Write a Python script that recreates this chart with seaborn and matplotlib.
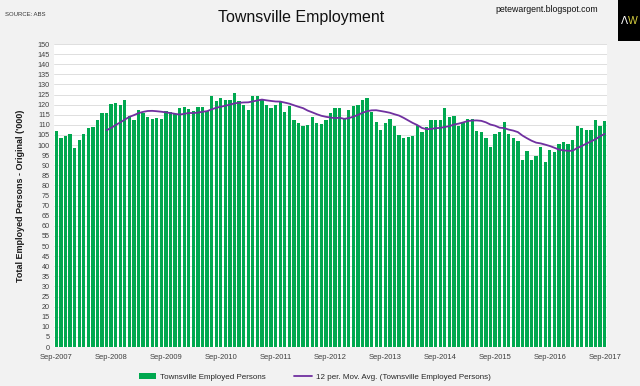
import matplotlib
matplotlib.use("Agg")
import matplotlib.pyplot as plt
from matplotlib import font_manager
from matplotlib.patches import Patch, Rectangle
from matplotlib.lines import Line2D
import seaborn as sns
import pandas as pd
import numpy as np

# ---- data ----
months = pd.date_range("2007-09-01", "2017-09-01", freq="MS")
employed = [
    107.0, 103.3, 104.7, 105.5, 98.3, 102.5, 105.3, 108.6, 108.7, 112.2, 115.8, 116.0,
    120.5, 120.8, 120.0, 122.5, 114.5, 112.6, 117.4, 115.8, 114.0, 113.0, 113.5, 113.0,
    116.8, 116.5, 115.5, 118.3, 118.8, 117.8, 116.7, 118.7, 118.8, 116.7, 124.5, 122.0,
    123.2, 122.2, 122.2, 125.8, 122.0, 120.0, 117.4, 124.3, 124.2, 122.1, 120.0, 118.3,
    120.0, 121.7, 116.1, 119.5, 112.5, 111.0, 109.2, 110.0, 113.8, 111.0, 110.6, 112.2,
    115.6, 118.3, 118.3, 112.8, 117.2, 119.3, 119.7, 122.5, 123.3, 116.2, 111.2, 107.5,
    110.8, 112.7, 109.5, 105.0, 103.7, 104.0, 104.6, 109.8, 106.5, 108.7, 112.5, 112.3,
    112.2, 118.5, 113.9, 114.6, 109.2, 111.0, 113.0, 113.0, 107.1, 106.2, 103.7, 99.2,
    105.5, 106.6, 111.4, 105.6, 103.3, 102.0, 92.5, 97.0, 92.5, 94.8, 99.1, 91.7,
    97.5, 96.3, 100.3, 101.3, 100.4, 102.6, 109.2, 108.3, 107.2, 107.2, 112.5, 109.2,
    111.7,
]
tick_labels = [f"Sep-{y}" for y in range(2007, 2018)]
series_name = "Townsville Employed Persons"
ma_name = "12 per. Mov. Avg. (Townsville Employed Persons)"

df = pd.DataFrame({"month": months.strftime("%Y-%m"), "value": employed})
df["pos"] = np.arange(len(df))
df["ma"] = df["value"].rolling(12).mean()

# ---- fonts ----
avail = {f.name for f in font_manager.fontManager.ttflist}
fam = [f for f in ["Liberation Sans Narrow", "Liberation Sans", "DejaVu Sans"] if f in avail]

sns.set_theme(style="white")
plt.rcParams["font.family"] = fam

BG = "#f2f2f2"
GREEN = "#00a84f"
PURPLE = "#7030a0"

fig = plt.figure(figsize=(6.4, 3.86), dpi=100, facecolor=BG)
ax = fig.add_axes([0.0844, 0.101, 0.8640, 0.785])
ax.set_facecolor("white")

sns.barplot(data=df, x="pos", y="value", color=GREEN, saturation=1, width=0.72,
            ax=ax, zorder=2, linewidth=0)
ax.plot(df["pos"], df["ma"], color=PURPLE, lw=1.3, zorder=3)

ax.set_ylim(0, 150)
ax.set_xlim(-0.5, len(df) - 0.5)
ax.set_yticks(np.arange(0, 151, 5))
ax.set_yticklabels([str(v) for v in range(0, 151, 5)], fontsize=5.2, color="#404040")
ax.set_xticks(np.arange(0, len(df), 12))
ax.set_xticklabels(tick_labels, fontsize=5.5, color="#404040")
ax.tick_params(axis="x", length=0, pad=5)
ax.tick_params(axis="y", length=0, pad=3)
ax.yaxis.grid(True, color="#d9d9d9", lw=0.6, zorder=0)
ax.set_axisbelow(True)
for s in ax.spines.values():
    s.set_visible(False)
ax.set_xlabel("")
ax.set_ylabel("Total Employed Persons - Original ('000)", fontsize=6.5,
              fontweight="bold", color="#1a1a1a", labelpad=9)

# titles / annotations
fig.text(0.47, 0.955, "Townsville Employment", ha="center", va="center",
         fontsize=11.5, color="#111111")
fig.text(0.008, 0.962, "SOURCE: ABS", ha="left", va="center", fontsize=4.3, color="#333333")
fig.text(0.855, 0.975, "petewargent.blogspot.com", ha="center", va="center",
         fontsize=6.3, color="#111111")
fig.patches.append(Rectangle((0.965, 0.895), 0.035, 0.105, transform=fig.transFigure,
                             facecolor="black", edgecolor="none"))
fig.text(0.9755, 0.945, "Λ", ha="center", va="center", fontsize=7.5, color="white",
         family=["DejaVu Sans"])
fig.text(0.9885, 0.945, "W", ha="center", va="center", fontsize=7.5, color="#d8d040")

handles = [Patch(facecolor=GREEN, edgecolor="none", label=series_name),
           Line2D([0], [0], color=PURPLE, lw=1.3, label=ma_name)]
fig.legend(handles=handles, loc="center", bbox_to_anchor=(0.492, 0.023), ncol=2,
           frameon=False, fontsize=5.8, handlelength=2.2, handleheight=0.7,
           columnspacing=3.5, handletextpad=0.5)

fig.savefig("out.png", dpi=100, facecolor=BG)
